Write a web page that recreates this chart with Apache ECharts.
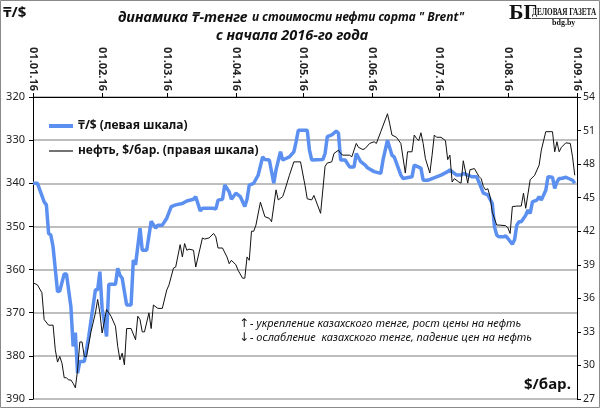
<!DOCTYPE html>
<html><head><meta charset="utf-8">
<script src="https://cdn.jsdelivr.net/npm/echarts@6/dist/echarts.min.js"></script>
<style>html,body{margin:0;padding:0;background:#fff}#c{width:600px;height:408px}</style>
</head><body><div id="c"></div>
<script>
// --- data ---
var xTickLabels = ['01.01.16','01.02.16','01.03.16','01.04.16','01.05.16','01.06.16','01.07.16','01.08.16','01.09.16'];
var leftTicks = [320, 390, 10];   // min, max, step (₸/$, inverted)
var rightTicks = [27, 54, 3];     // min, max, step ($/bar.)

var tengeDates = ['01-01','01-03','01-06','01-07','01-08','01-09','01-10','01-12','01-13','01-15','01-16','01-18','01-19','01-20','01-21','01-22','01-24','01-25','01-26','01-29','01-30','01-31',
'02-01','02-03','02-04','02-07','02-08','02-09','02-10','02-12','02-14','02-15','02-16','02-18','02-19','02-21','02-23','02-25','02-26','02-28',
'03-01','03-03','03-05','03-08','03-10','03-13','03-14','03-16','03-17','03-22','03-23','03-24','03-26','03-27','03-29','03-30',
'04-01','04-03','04-05','04-06','04-07','04-09','04-11','04-13','04-14','04-16','04-18','04-19','04-21','04-22','04-25','04-27','04-28','04-29',
'05-03','05-04','05-05','05-10','05-11','05-12','05-14','05-16','05-17','05-18','05-20','05-22','05-24','05-25','05-27','05-29','05-30',
'06-02','06-05','06-06','06-08','06-10','06-11','06-14','06-15','06-19','06-20','06-23','06-24','06-26','06-30',
'07-02','07-05','07-06','07-08','07-09','07-11','07-12','07-16','07-18','07-19','07-21','07-23','07-25','07-26','07-27','07-28','07-30','07-31',
'08-01','08-03','08-04','08-05','08-06','08-07','08-09','08-10','08-11','08-12','08-14','08-15','08-16','08-18','08-19','08-21','08-22','08-23','08-24','08-25','08-27','08-30','08-31'];
var tengeValues = [340,340,344.3,345,351.6,352,354.7,365.1,365,361,361,368.6,377.8,374.6,384,381.3,381.3,378.6,375.5,364.7,364.7,360.5,
369,375.5,363.4,363.4,359.7,361.3,362,368.2,368.2,357.8,358.9,350.4,355.5,355.5,348.8,350.4,349.7,349.7,
348.1,345.4,345,344.7,344.1,343.7,343.1,346.4,345.8,345.8,346,343.9,343.7,340.4,342,343.7,
342.3,343.1,345.4,343.7,340.4,340,338.1,333.9,334.5,334.6,340,336.9,332.7,334.6,333.9,332.7,330.4,327.7,
327.7,332.3,334.6,334.5,333.1,329.2,328.8,327.9,328.4,334.6,334.6,336.2,336.2,333.1,335,335.8,336.4,
337.3,337.7,334.6,330,333.5,333.9,338.1,338.9,338.5,335.8,336.5,339.3,339.3,338.5,
338.1,337.3,336.9,337.7,338.1,338.1,337.7,338.5,338.5,339.7,342.3,342.7,344.7,350.1,352,352.4,352.4,352.2,
352.8,354.1,353.1,349.7,348.9,348.9,347.4,346.2,347,344.3,343.9,343.1,343.9,341.6,338.5,338.6,341.2,339.7,338.9,338.9,338.6,339.3,340];

var brentDates = ['01-01','01-03','01-05','01-06','01-08','01-10','01-11','01-12','01-13','01-14','01-15','01-16','01-17','01-18','01-19','01-20','01-21','01-22','01-23','01-24','01-25','01-27','01-29','01-30','01-31',
'02-01','02-03','02-05','02-07','02-08','02-09','02-10','02-11','02-12','02-14','02-16','02-17','02-18','02-19','02-20','02-22','02-23','02-24','02-26','02-28',
'03-01','03-02','03-04','03-05','03-07','03-08','03-09','03-10','03-11','03-13','03-14','03-17','03-18','03-20','03-22','03-23','03-24','03-26','03-28','03-29','03-30',
'04-01','04-02','04-04','04-05','04-06','04-07','04-08','04-09','04-10','04-12','04-14','04-16','04-17','04-19','04-20','04-22','04-23','04-25','04-27','04-30',
'05-02','05-03','05-05','05-06','05-09','05-11','05-12','05-14','05-15','05-17','05-18','05-19','05-22','05-23','05-25','05-26','05-28','05-29','05-31',
'06-02','06-03','06-05','06-08','06-09','06-10','06-12','06-14','06-16','06-17','06-19','06-20','06-21','06-22','06-23','06-24','06-25','06-27','06-28','06-29','06-30',
'07-02','07-04','07-05','07-06','07-07','07-08','07-10','07-11','07-12','07-13','07-14','07-15','07-17','07-19','07-20','07-21','07-22','07-23','07-24','07-25','07-27','07-28','07-31',
'08-01','08-02','08-03','08-05','08-07','08-08','08-09','08-11','08-13','08-15','08-16','08-18','08-21','08-22','08-23','08-24','08-25','08-27','08-29','08-30','08-31'];
var brentValues = [37.4,37.2,36.5,34.1,33.6,33.6,31.4,30.3,30.8,30.2,28.9,28.9,28.7,28.7,28.4,28.0,29.6,32.1,32.1,30.8,30.8,33.0,34.7,35.9,34.7,
32.9,35.0,34.4,33.5,31.7,30.5,31.1,30.05,33.3,33.3,32.3,34.4,34.1,33.0,33.0,34.7,33.3,35.4,35.1,35.1,
36.75,37.2,38.7,38.8,40.8,39.7,40.9,40.3,40.4,40.3,38.8,41.4,41.3,41.4,41.8,41.5,40.5,40.5,39.7,39.1,39.4,
39.0,38.5,37.8,37.8,39.7,39.4,42.0,42.0,42.55,44.6,43.3,43.15,42.85,45.7,44.8,45.1,45.7,47.0,48.2,48.2,
46.1,44.9,44.8,45.2,43.6,47.8,48.1,48.2,48.95,49.25,48.95,48.8,48.8,48.65,49.85,49.5,49.3,49.4,49.85,
50.0,49.85,50.9,52.5,51.6,50.6,50.4,49.85,47.2,49.1,49.1,50.6,50.3,50.1,50.8,49.85,48.5,47.2,48.8,50.6,50.4,
50.4,50.1,48.4,48.8,46.4,46.7,46.4,46.3,48.3,47.3,46.3,47.5,47.6,46.9,46.7,46.0,45.7,45.8,45.1,43.7,42.55,42.55,42.5,
42.3,41.8,44.2,44.25,44.25,45.4,44.05,46.6,47.0,47.9,49.25,50.9,50.9,49.1,50.0,49.1,49.5,49.9,49.85,48.65,47.0];

var seriesNames = ['₸/$ (левая шкала)', 'нефть, $/бар. (правая шкала)'];

// --- build ---
function pairs(d, v) { return d.map(function (s, i) { return ['2016-' + s, v[i]]; }); }
var DAY = 86400000;
var monthStarts = xTickLabels.map(function (s) { var p = s.split('.'); return '20' + p[2] + '-' + p[1] + '-' + p[0]; });

var font = "'Noto Sans','DejaVu Sans',sans-serif";
var serif = "'Liberation Serif','DejaVu Serif',serif";
var legendText = { fontFamily: font, fontSize: 12, fontWeight: 'bold', color: '#111' };
var chart = echarts.init(document.getElementById('c'), null, { renderer: 'canvas' });
chart.setOption({
  animation: false,
  backgroundColor: '#fff',
  textStyle: { fontFamily: font },
  title: [
    { text: '{a|динамика ₸-тенге} {b|и стоимости нефти сорта " Brent"}', left: 113, top: 4,
      textStyle: { rich: {
        a: { fontFamily: font, fontSize: 14.5, fontWeight: 'bold', fontStyle: 'italic', color: '#111' },
        b: { fontFamily: font, fontSize: 12, fontWeight: 'bold', fontStyle: 'italic', color: '#111' } } } },
    { text: 'с начала 2016-го года', left: 211, top: 23,
      textStyle: { fontFamily: font, fontSize: 14.5, fontWeight: 'bold', fontStyle: 'italic', color: '#111' } }
  ],
  legend: [
    { left: 49, top: 120, padding: 0, icon: 'rect', itemWidth: 24, itemHeight: 4, itemGap: 4,
      textStyle: legendText, data: [seriesNames[0]] },
    { left: 49, top: 145, padding: 0, icon: 'rect', itemWidth: 24, itemHeight: 1.5, itemGap: 4,
      textStyle: legendText, data: [seriesNames[1]] }
  ],
  grid: { left: 33, right: 23, top: 97, bottom: 9, containLabel: false },
  xAxis: {
    type: 'time', position: 'top',
    min: monthStarts[0], max: monthStarts[monthStarts.length - 1],
    minInterval: 28 * DAY, maxInterval: 31 * DAY, splitNumber: 8,
    axisLine: { show: true, lineStyle: { color: '#000', width: 1 } },
    axisTick: { show: true, length: 4, lineStyle: { color: '#000' } },
    splitLine: { show: false },
    axisLabel: { rotate: 90, margin: 6, fontFamily: font, fontSize: 11, fontWeight: 'bold', color: '#222',
      formatter: '{dd}.{MM}.{yy}', showMinLabel: true, showMaxLabel: true, hideOverlap: false }
  },
  yAxis: [
    { type: 'value', inverse: true, min: leftTicks[0], max: leftTicks[1], interval: leftTicks[2], position: 'left',
      axisLine: { show: true, lineStyle: { color: '#000' } },
      axisTick: { show: true, length: 4, lineStyle: { color: '#000' } },
      splitLine: { show: true, lineStyle: { color: '#a8a8a8', width: 1.5 } },
      axisLabel: { margin: 8, fontFamily: font, fontSize: 11, color: '#222' } },
    { type: 'value', min: rightTicks[0], max: rightTicks[1], interval: rightTicks[2], position: 'right',
      axisLine: { show: true, lineStyle: { color: '#000' } },
      axisTick: { show: true, length: 4, lineStyle: { color: '#000' } },
      splitLine: { show: false },
      axisLabel: { margin: 6, fontFamily: font, fontSize: 10.5, color: '#222' } }
  ],
  series: [
    { name: seriesNames[0], type: 'line', yAxisIndex: 0, symbol: 'none', data: pairs(tengeDates, tengeValues),
      lineStyle: { color: '#5b8ff0', width: 3.5 }, itemStyle: { color: '#5b8ff0' } },
    { name: seriesNames[1], type: 'line', yAxisIndex: 1, symbol: 'none', data: pairs(brentDates, brentValues),
      lineStyle: { color: '#111', width: 1 }, itemStyle: { color: '#444' } }
  ],
  graphic: [
    { type: 'rect', shape: { x: 0.5, y: 0.5, width: 599, height: 407 }, style: { fill: 'none', stroke: '#8a8a8a', lineWidth: 1 }, silent: true },
    { type: 'text', left: 3, top: 5, style: { text: '₸/$', font: "bold 15px " + font, fill: '#111' } },
    { type: 'text', left: 524, top: 377, style: { text: '$/бар.', font: "bold 15px " + font, fill: '#111' } },
    { type: 'text', left: 239, top: 318, style: { text: '↑', font: "12px " + font, fill: '#111' } },
    { type: 'text', left: 239, top: 332, style: { text: '↓', font: "12px " + font, fill: '#111' } },
    { type: 'text', left: 250, top: 318, style: { text: '- укрепление казахского тенге, рост цены на нефть', font: "italic 11px " + font, fill: '#111' } },
    { type: 'text', left: 250, top: 332, style: { text: '- ослабление  казахского тенге, падение цен на нефть', font: "italic 11px " + font, fill: '#111' } },
    { type: 'text', x: 509, y: 2, style: { text: 'БГ', font: "bold 22px " + serif, fill: '#111' } },
    { type: 'text', x: 532, y: 7, scaleX: 0.72, style: { text: 'ДЕЛОВАЯ ГАЗЕТА', font: "bold 10px " + serif, fill: '#111' } },
    { type: 'rect', shape: { x: 532, y: 18, width: 65, height: 0.8 }, style: { fill: '#111' } },
    { type: 'text', x: 552, y: 19, style: { text: 'bdg.by', font: "bold 8px " + serif, fill: '#111' } }
  ]
});
</script></body></html>
